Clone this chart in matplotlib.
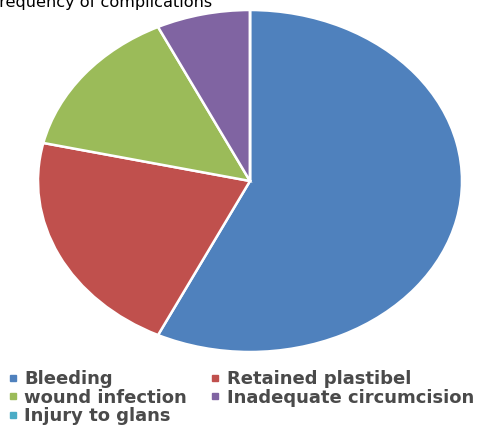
import matplotlib.pyplot as plt
from matplotlib.lines import Line2D

# complication counts (injury to glans has no visible slice)
labels = ['Bleeding', 'Retained plastibel', 'wound infection',
          'Inadequate circumcision', 'Injury to glans']
counts = [8, 3, 2, 1, 0]
colors = ['#4F81BD', '#C0504D', '#9BBB59', '#8064A2', '#4BACC6']
title = 'Frequency of complications'

fig = plt.figure(figsize=(4.86, 4.28), dpi=100)

# stretched pie: axes with free aspect so the circle becomes an ellipse
ax = fig.add_axes([38 / 486, 1 - 352 / 428, 424 / 486, 342 / 428])
ax.pie(counts, colors=colors, startangle=90, counterclock=False,
       radius=1, wedgeprops=dict(edgecolor='white', linewidth=1.8))
ax.set_aspect('auto')
ax.set_xlim(-1, 1)
ax.set_ylim(-1, 1)
ax.axis('off')

# title is partly cut off at the top/left edge in the source image
fig.text(-9 / 486, 1 - 7 / 428, title, ha='left', va='baseline',
         fontsize=11.6, color='black', family='DejaVu Sans')

# legend, laid out row-wise in two columns
handles = [Line2D([], [], marker='s', linestyle='none', markersize=5,
                  markerfacecolor=c, markeredgecolor=c) for c in colors]
order = [0, 2, 4, 1, 3]
leg = fig.legend([handles[i] for i in order], [labels[i] for i in order],
                 loc='upper left', bbox_to_anchor=(8 / 486, 1 - 370 / 428),
                 ncol=2, frameon=False, borderpad=0, borderaxespad=0,
                 handlelength=0.5, handletextpad=0.4, labelspacing=0.03,
                 columnspacing=1.3,
                 prop=dict(family='DejaVu Sans', weight='bold', size=13.0))
for t in leg.get_texts():
    t.set_color('#4a4a4a')

fig.savefig('out.png', dpi=100)
